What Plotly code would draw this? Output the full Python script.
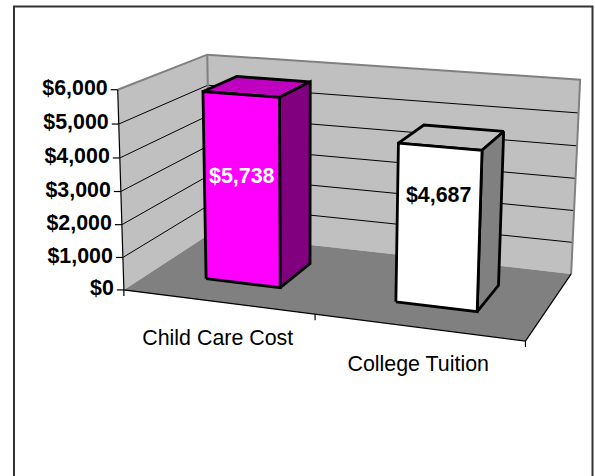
import numpy as np
import plotly.graph_objects as go

categories = ["Child Care Cost", "College Tuition"]
values = [5738, 4687]
value_labels = ["$5,738", "$4,687"]
tick_values = [0, 1000, 2000, 3000, 4000, 5000, 6000]
tick_labels = ["$0", "$1,000", "$2,000", "$3,000", "$4,000", "$5,000", "$6,000"]
face_colors = ["#FF00FF", "#FFFFFF"]
top_colors = ["#C000C0", "#C0C0C0"]
side_colors = ["#800080", "#808080"]

W, H = 595, 476
AXIS_MAX = 6000
BAR_CENTERS = [0.252, 0.750]
BAR_WIDTH = 0.2
BAR_V = (0.295, 0.70)
LABEL_LEVEL = 3260
FONT = "Liberation Sans, Arial, sans-serif"

# Projection of the 3D box (u across, v depth, h height) on to the page
anchors = [
    ((0, 0, 0), (125, 290)), ((1, 0, 0), (525, 341.7)), ((1, 1, 0), (571.7, 273)),
    ((0, 1, 0), (209, 234)), ((0, 0, 1), (117, 89)), ((0, 1, 1), (208, 55)),
    ((1, 1, 1), (580, 80)),
]
A, b = [], []
for (u, v, h), (x, y) in anchors:
    A.append([u, v, h, 1, 0, 0, 0, 0, -x * u, -x * v, -x * h]); b.append(x)
    A.append([0, 0, 0, 0, u, v, h, 1, -y * u, -y * v, -y * h]); b.append(y)
m = np.linalg.lstsq(np.array(A, float), np.array(b, float), rcond=None)[0]


def P(u, v, val=0.0):
    h = val / AXIS_MAX
    w = m[8] * u + m[9] * v + m[10] * h + 1
    return ((m[0] * u + m[1] * v + m[2] * h + m[3]) / w,
            (m[4] * u + m[5] * v + m[6] * h + m[7]) / w)


fig = go.Figure()


def path(pts, color="black", width=1.0, fill=None):
    xs = [p[0] for p in pts]
    ys = [p[1] for p in pts]
    kw = dict(fill="toself", fillcolor=fill) if fill else {}
    fig.add_trace(go.Scatter(x=xs, y=ys, mode="lines", hoverinfo="skip", showlegend=False,
                             line=dict(color=color, width=width, simplify=False), **kw))


def text(x, y, labels, pos, color="black", bold=False, size=21.4):
    fig.add_trace(go.Scatter(x=x, y=y, mode="text", text=labels, textposition=pos, hoverinfo="skip",
                             showlegend=False,
                             textfont=dict(family=FONT, size=size, color=color,
                                           weight="bold" if bold else "normal")))


# chart frame
path([(14, 482), (14, 6.5), (592.5, 6.5), (592.5, 482)], "#333333", 2)

# walls
top = AXIS_MAX
path([P(0, 0), P(0, 0, top), P(0, 1, top), P(0, 1)], "rgba(0,0,0,0)", 0, "#C0C0C0")
path([P(0, 1), P(0, 1, top), P(1, 1, top), P(1, 1)], "rgba(0,0,0,0)", 0, "#C0C0C0")
for t in tick_values[1:-1]:
    path([P(0, 0, t), P(0, 1, t), P(1, 1, t)], "black", 1)
path([P(0, 0, top), P(0, 1, top), P(1, 1, top), P(1, 1)], "#808080", 2)
path([P(0, 1), P(0, 1, top)], "#808080", 2)

# floor
path([P(0, 0), P(1, 0), P(1, 1), P(0, 1)], "rgba(0,0,0,0)", 0, "#808080")
path([P(1, 1), P(1, 0), P(0, 0), P(0, 0, top)], "black", 1.2)

# value axis ticks and labels
for t in tick_values:
    x, y = P(0, 0, t)
    path([(x - 7, y), (x, y)], "black", 1.2)
tx, ty = zip(*[P(0, 0, t) for t in tick_values])
text([x - 10 for x in tx], list(ty), tick_labels, "middle left", bold=True)

# category ticks
n = len(categories)
for i in range(n + 1):
    x, y = P(i / n, 0)
    path([(x, y), (x, y + 6)], "black", 1.2)

# bars
for c, val, fc, tc, sc in zip(BAR_CENTERS, values, face_colors, top_colors, side_colors):
    u0, u1 = c - BAR_WIDTH / 2, c + BAR_WIDTH / 2
    v0, v1 = BAR_V
    path([P(u0, v0, val), P(u1, v0, val), P(u1, v1, val), P(u0, v1, val), P(u0, v0, val)], "black", 2.8, tc)
    path([P(u1, v0), P(u1, v1), P(u1, v1, val), P(u1, v0, val), P(u1, v0)], "black", 2.8, sc)
    path([P(u0, v0), P(u1, v0), P(u1, v0, val), P(u0, v0, val), P(u0, v0)], "black", 2.8, fc)

# data labels
lx, ly = zip(*[P(c, BAR_V[0], LABEL_LEVEL) for c in BAR_CENTERS])
text(list(lx)[:1], list(ly)[:1], value_labels[:1], "middle center", "white", True)
text(list(lx)[1:], list(ly)[1:], value_labels[1:], "middle center", "black", True)

# category labels
cx, cy = zip(*[P((i + 0.5) / n, 0) for i in range(n)])
text([x + 0.5 for x in cx], [y + 38 for y in cy], categories, "middle center")

fig.update_layout(
    width=W, height=H, margin=dict(l=0, r=0, t=0, b=0), showlegend=False,
    paper_bgcolor="white", plot_bgcolor="white",
    xaxis=dict(range=[0, W], visible=False, fixedrange=True),
    yaxis=dict(range=[H, 0], visible=False, fixedrange=True),
)
fig.write_html("out.html", config={"displayModeBar": False, "responsive": False},
               post_script="document.body.style.margin='0';document.documentElement.style.overflow='hidden';")
